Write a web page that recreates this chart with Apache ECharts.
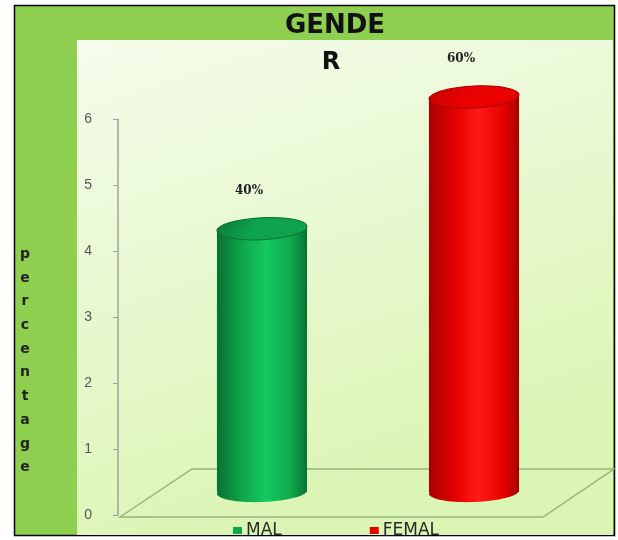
<!DOCTYPE html>
<html>
<head>
<meta charset="utf-8">
<script src="https://cdn.jsdelivr.net/npm/echarts@6/dist/echarts.min.js"></script>
<style>
  html, body { margin: 0; padding: 0; background: #fff; }
  #gender-chart { width: 618px; height: 540px; }
</style>
</head>
<body>
<div id="gender-chart"></div>
<script>
// chart data
const categories = ['MAL', 'FEMAL'];
const values = [4, 6];
const pctLabels = ['40%', '60%'];
const yMin = 0, yMax = 6, yStep = 1;
const yAxisTitle = 'percentage';

// cylinder colours: [edge, mid, highlight, top cap dark, top cap light]
const palettes = [
  ['#087232', '#0fa84c', '#14c960', '#08783a', '#0fa24c'],
  ['#a80000', '#e80000', '#ff1a1a', '#c40000', '#ea0000']
];

function renderCylinder(params, api) {
  const i = api.value(0);
  const top = api.coord([i, api.value(1)]);
  const base = api.coord([i, 0]);
  const rx = api.size([1, 0])[0] * 0.425 / 2;
  const ry = 10;
  const p = palettes[i];
  const bodyFill = {
    type: 'linear', x: 0, y: 0, x2: 1, y2: 0,
    colorStops: [
      {offset: 0, color: p[0]},
      {offset: 0.3, color: p[1]},
      {offset: 0.55, color: p[2]},
      {offset: 0.82, color: p[1]},
      {offset: 1, color: p[0]}
    ]
  };
  const capFill = {
    type: 'linear', x: 0, y: 0, x2: 0.3, y2: 1,
    colorStops: [{offset: 0, color: p[3]}, {offset: 1, color: p[4]}]
  };
  return {
    type: 'group',
    children: [
      {type: 'ellipse', x: base[0], y: base[1], rotation: 0.04,
        shape: {cx: 0, cy: 0, rx: rx, ry: ry}, style: {fill: bodyFill}},
      {type: 'rect', shape: {x: top[0] - rx, y: top[1], width: rx * 2, height: base[1] - top[1]},
        style: {fill: bodyFill}},
      {type: 'ellipse', x: top[0], y: top[1], rotation: 0.05,
        shape: {cx: 0, cy: 0, rx: rx, ry: ry + 1}, style: {fill: capFill, stroke: p[0], lineWidth: 1}},
      {type: 'text', x: top[0] - 13, y: top[1] - 38,
        style: {text: pctLabels[i], font: 'bold 12px "DejaVu Serif"', fill: '#222',
          align: 'center', verticalAlign: 'middle'}}
    ]
  };
}

const chart = echarts.init(document.getElementById('gender-chart'));
chart.setOption({
  backgroundColor: '#fff',
  animation: false,
  title: [
    {text: 'GENDE', left: 330, top: 8, textAlign: 'center',
      textStyle: {fontFamily: 'DejaVu Sans', fontWeight: 'bold', fontSize: 26, color: '#111'}},
    {text: 'R', left: 326, top: 46, textAlign: 'center',
      textStyle: {fontFamily: 'DejaVu Sans', fontWeight: 'bold', fontSize: 24, color: '#111'}}
  ],
  legend: {
    left: 228, top: 517,
    icon: 'rect', itemWidth: 9, itemHeight: 7, itemGap: 88,
    textStyle: {fontFamily: 'DejaVu Sans', fontSize: 17, color: '#2a2a2a', padding: [0, 0, 0, -1]},
    data: categories
  },
  graphic: [
    {type: 'rect', z: -10, shape: {x: 14.5, y: 5.5, width: 600, height: 530},
      style: {fill: '#8ecf50', stroke: '#000', lineWidth: 1.5}},
    {type: 'rect', z: -9, shape: {x: 77, y: 40, width: 536, height: 495},
      style: {fill: {type: 'linear', x: 0, y: 0, x2: 0.3, y2: 1,
        colorStops: [{offset: 0, color: '#f5fcec'}, {offset: 1, color: '#dbf5b4'}]}}},
    {type: 'polygon', z: -5, shape: {points: [[120, 517], [192, 469], [614, 469], [543, 517]]},
      style: {fill: 'none', stroke: '#98b27e', lineWidth: 1.5}},
    {type: 'text', z: 10, x: 25, y: 361,
      style: {text: yAxisTitle.split('').join('\n'), font: 'bold 14px "DejaVu Sans"', fill: '#222',
        align: 'center', verticalAlign: 'middle', lineHeight: 23.7}}
  ],
  grid: [
    {left: 118, top: 119, width: 420, bottom: 25},
    {left: 156, top: 97, right: 38, bottom: 48}
  ],
  xAxis: [
    {gridIndex: 0, type: 'value', show: false},
    {gridIndex: 1, type: 'category', data: categories, show: false}
  ],
  yAxis: [
    {gridIndex: 0, type: 'value', min: yMin, max: yMax, interval: yStep,
      axisLine: {show: true, lineStyle: {color: '#a0a0a0', width: 1.5}},
      axisTick: {show: true, length: 5, lineStyle: {color: '#a0a0a0'}},
      axisLabel: {color: '#555', fontSize: 14, fontFamily: 'Liberation Sans', margin: 26},
      splitLine: {show: false}},
    {gridIndex: 1, type: 'value', min: yMin, max: yMax, show: false}
  ],
  series: categories.map((name, i) => ({
    name: name,
    type: 'custom',
    xAxisIndex: 1,
    yAxisIndex: 1,
    itemStyle: {color: palettes[i][1]},
    renderItem: renderCylinder,
    data: [[i, values[i]]]
  }))
});
</script>
</body>
</html>
